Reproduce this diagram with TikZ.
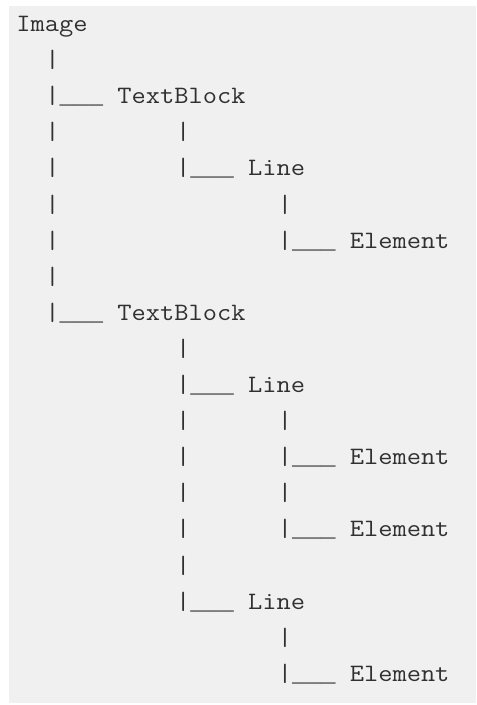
\documentclass[tikz,border=0pt]{standalone}
\usepackage{fontspec}
\newfontfamily\rulefont{Liberation Mono}
\begin{document}
\begin{tikzpicture}[x=1pt,y=-1pt,
  tree/.style={anchor=base west,inner sep=0pt,outer sep=0pt,
    font=\ttfamily\fontsize{25}{36}\selectfont,text=textgray},
]
\definecolor{textgray}{HTML}{303030}
\definecolor{panelgray}{HTML}{F0F0F0}
% character cell width, first column, first baseline, line pitch
\def\cw{14.52}\def\cx{16.4}\def\by{31.5}\def\ls{36.1}
\newcommand\cell[2]{({\cx+\cw*#1},{\by+\ls*#2})}
% typewriter text widened to the cell width
\newcommand\tw[1]{\scalebox{1.106}[1]{#1}}
% branch: bar, joined underscores, label
\newcommand\br[1]{\tw{|}{\rulefont\fontsize{24.2}{36}\selectfont\_\_\_}\tw{\ #1}}
\useasboundingbox (0,0) rectangle (477,705);
\fill[white] (0,0) rectangle (477,705);
\fill[panelgray] (9,6) rectangle (476,703);
% root
\node[tree] (img) at \cell{0}{0} {\tw{Image}};
% first text block
\node[tree] (v1)  at \cell{2}{1} {\tw{|}};
\node[tree] (tb1) at \cell{2}{2} {\br{TextBlock}};
\node[tree] (v3a) at \cell{2}{3} {\tw{|}};
\node[tree] (v3b) at \cell{11}{3} {\tw{|}};
\node[tree] (v4)  at \cell{2}{4} {\tw{|}};
\node[tree] (ln1) at \cell{11}{4} {\br{Line}};
\node[tree] (v5a) at \cell{2}{5} {\tw{|}};
\node[tree] (v5b) at \cell{18}{5} {\tw{|}};
\node[tree] (v6)  at \cell{2}{6} {\tw{|}};
\node[tree] (el1) at \cell{18}{6} {\br{Element}};
\node[tree] (v7)  at \cell{2}{7} {\tw{|}};
% second text block
\node[tree] (tb2) at \cell{2}{8} {\br{TextBlock}};
\node[tree] (v9)  at \cell{11}{9} {\tw{|}};
\node[tree] (ln2) at \cell{11}{10} {\br{Line}};
\node[tree] (v11a) at \cell{11}{11} {\tw{|}};
\node[tree] (v11b) at \cell{18}{11} {\tw{|}};
\node[tree] (v12) at \cell{11}{12} {\tw{|}};
\node[tree] (el2) at \cell{18}{12} {\br{Element}};
\node[tree] (v13a) at \cell{11}{13} {\tw{|}};
\node[tree] (v13b) at \cell{18}{13} {\tw{|}};
\node[tree] (v14) at \cell{11}{14} {\tw{|}};
\node[tree] (el3) at \cell{18}{14} {\br{Element}};
\node[tree] (v15) at \cell{11}{15} {\tw{|}};
\node[tree] (ln3) at \cell{11}{16} {\br{Line}};
\node[tree] (v17) at \cell{18}{17} {\tw{|}};
\node[tree] (el4) at \cell{18}{18} {\br{Element}};
\end{tikzpicture}
\end{document}
